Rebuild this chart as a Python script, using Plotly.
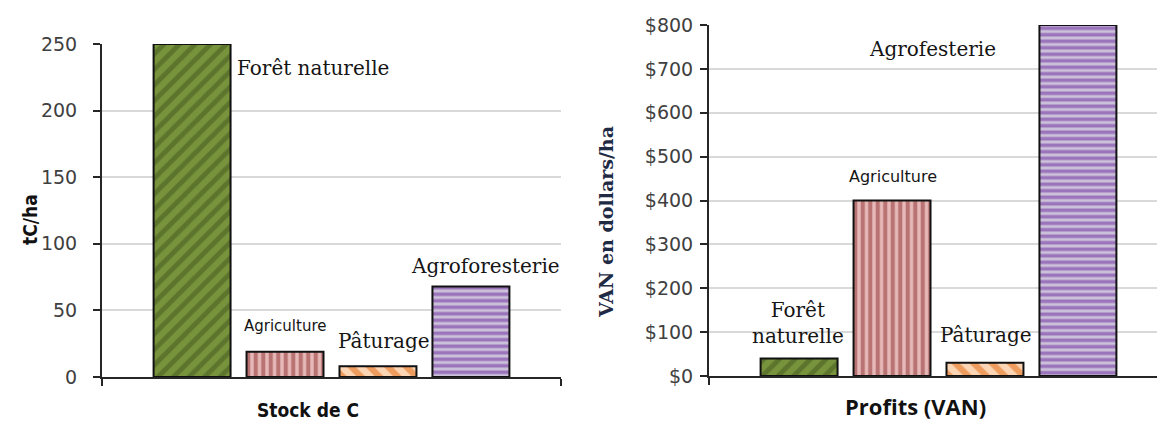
import plotly.graph_objects as go

# Land-use systems compared in both panels
systems = ["Forêt naturelle", "Agriculture", "Pâturage", "Agroforesterie"]
carbon_stock = [250, 19, 8, 68]          # tC/ha
npv_profit = [40, 400, 30, 800]          # VAN, dollars/ha
left_category = ["Stock de C"]
right_category = ["Profits (VAN)"]
carbon_ticks = [0, 50, 100, 150, 200, 250]
npv_ticks = [0, 100, 200, 300, 400, 500, 600, 700, 800]
npv_tick_labels = ["$0", "$100", "$200", "$300", "$400", "$500", "$600", "$700", "$800"]

# Fill style for each system: (background, stripe colour, pattern, tile size, solidity)
styles = [
    ("#77933C", "#43561E", "/", 11, 0.45),
    ("#E6B9B8", "#8B2E2C", "|", 7.5, 0.55),
    ("#FCD5B5", "#E0650A", "\\", 13, 0.48),
    ("#CCC1DA", "#6A2A9C", "-", 6.5, 0.55),
]

W, H = 1157, 421


def px(x):
    return x / W


def py(y):
    return 1 - y / H


fig = go.Figure()

for name, val, st in zip(systems, carbon_stock, styles):
    fig.add_trace(go.Bar(
        x=left_category, y=[val], name=name, xaxis="x", yaxis="y",
        marker=dict(color=st[0], line=dict(color="#111111", width=2),
                    pattern=dict(shape=st[2], fgcolor=st[1], bgcolor=st[0],
                                 size=st[3], solidity=st[4])),
        showlegend=False,
    ))

for name, val, st in zip(systems, npv_profit, styles):
    fig.add_trace(go.Bar(
        x=right_category, y=[val], name=name, xaxis="x2", yaxis="y2",
        marker=dict(color=st[0], line=dict(color="#111111", width=2),
                    pattern=dict(shape=st[2], fgcolor=st[1], bgcolor=st[0],
                                 size=st[3], solidity=st[4])),
        showlegend=False,
    ))

tick_font = dict(family="DejaVu Sans, sans-serif", size=19, color="#404040")
axis_common = dict(showline=True, linecolor="#262626", linewidth=2,
                   ticks="outside", ticklen=7, tickwidth=2, tickcolor="#262626",
                   zeroline=False, automargin=False)

fig.update_layout(
    width=W, height=H,
    margin=dict(l=0, r=0, t=0, b=0, pad=0, autoexpand=False),
    paper_bgcolor="white", plot_bgcolor="white",
    barmode="group", bargap=0.19, bargroupgap=0.172,
    xaxis=dict(domain=[px(102), px(561)], anchor="y", range=[-0.5, 0.5],
               showticklabels=False, tickson="boundaries", showgrid=False,
               **axis_common),
    yaxis=dict(domain=[py(377), py(44)], anchor="x", range=[0, 250],
               tickvals=carbon_ticks, tickfont=tick_font,
               showgrid=True, gridcolor="#D9D9D9", gridwidth=2,
               ticklabelstandoff=12, **axis_common),
    xaxis2=dict(domain=[px(709), 1.0], anchor="y2", range=[-0.5, -0.5 + 448 / 459],
                showticklabels=False, tickson="boundaries", showgrid=False,
                **axis_common),
    yaxis2=dict(domain=[py(376), py(25)], anchor="x2", range=[0, 800],
                tickvals=npv_ticks, ticktext=npv_tick_labels, tickfont=tick_font,
                showgrid=True, gridcolor="#D9D9D9", gridwidth=2,
                ticklabelstandoff=3, **axis_common),
)

serif = "DejaVu Serif, Liberation Serif, serif"
sans = "DejaVu Sans, sans-serif"
label_color = "#151515"


def note(text, x, y, font, xanchor="center", angle=0):
    fig.add_annotation(text=text, x=px(x), y=py(y), xref="paper", yref="paper",
                       xanchor=xanchor, yanchor="middle", showarrow=False,
                       textangle=angle, font=font)


# Bar labels, left panel
note(systems[0], 235, 68, dict(family=serif, size=20, color=label_color), xanchor="left")
note(systems[1], 285, 326, dict(family=sans, size=15, color=label_color))
note(systems[2], 384, 341, dict(family=serif, size=20, color=label_color))
note(systems[3], 485, 266, dict(family=serif, size=20, color=label_color))

# Bar labels, right panel
note("Forêt<br>naturelle", 750, 323, dict(family=serif, size=20, color=label_color), xanchor="left")
note(systems[1], 893, 176, dict(family=sans, size=16, color=label_color))
note(systems[2], 986, 335, dict(family=serif, size=20, color=label_color))
note("Agrofesterie", 932, 49, dict(family=serif, size=20, color=label_color))

# Axis titles
cond_bold = "DejaVu Sans Condensed, Liberation Sans Narrow, sans-serif"
note("<b>" + left_category[0] + "</b>", 308, 410, dict(family=cond_bold, size=19, color="#111111"))
note("<b>tC/ha</b>", 30, 220, dict(family=cond_bold, size=19, color="#111111"), angle=-90)
note("<b>" + right_category[0] + "</b>", 915, 406, dict(family="Open Sans, sans-serif", size=22, color="#111111"))
note("<b>VAN en dollars/ha</b>", 606, 222, dict(family=serif, size=19, color="#1F2A44"), angle=-90)

fig.write_html("out.html")
